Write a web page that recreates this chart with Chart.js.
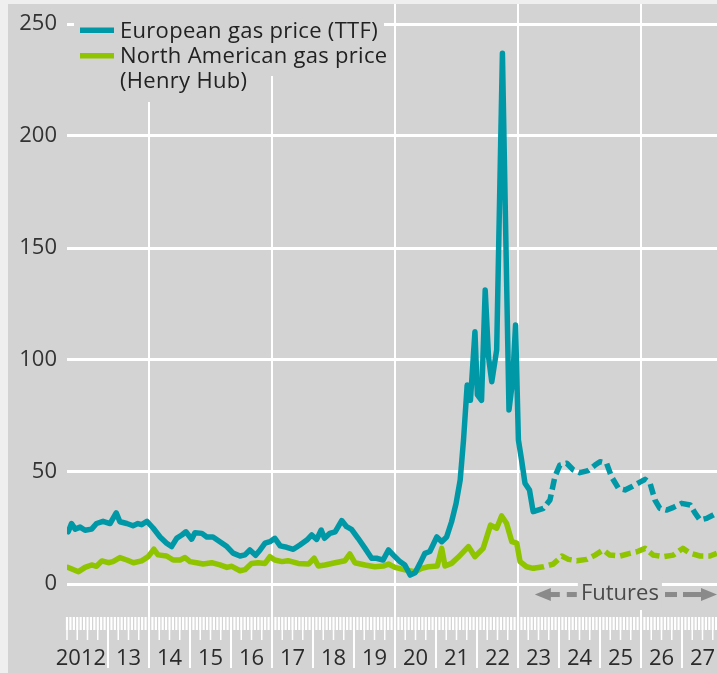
<!DOCTYPE html>
<html>
<head>
<meta charset="utf-8">
<script src="https://cdn.jsdelivr.net/npm/chart.js@4/dist/chart.umd.min.js"></script>
<style>
  html, body { margin: 0; padding: 0; background: #efefef; }
  #wrap { width: 717px; height: 673px; position: relative; }
</style>
</head>
<body>
<div id="wrap"><canvas id="c" width="717" height="673"></canvas></div>
<script>
// ---- data (time in decimal years, prices in EUR/MWh) ----
const ttfTime = [2012.03,2012.11,2012.20,2012.32,2012.44,2012.60,2012.72,2012.88,2013.05,2013.20,2013.29,2013.46,2013.61,2013.73,2013.82,2013.95,
  2014.10,2014.27,2014.43,2014.55,2014.68,2014.80,2014.90,2015.04,2015.12,2015.29,2015.41,2015.56,2015.73,2015.90,
  2016.05,2016.22,2016.34,2016.46,2016.60,2016.71,2016.83,2016.95,2017.07,2017.20,2017.36,2017.52,2017.68,2017.85,2017.97,
  2018.09,2018.20,2018.28,2018.41,2018.54,2018.70,2018.82,2018.94,2019.10,2019.27,2019.43,2019.55,2019.71,2019.84,2019.96,
  2020.12,2020.24,2020.37,2020.49,2020.61,2020.73,2020.85,2021.02,2021.14,2021.26,2021.38,2021.49,2021.59,2021.67,2021.76,2021.84,2021.95,
  2022.01,2022.11,2022.20,2022.28,2022.36,2022.48,2022.62,2022.78,2022.87,2022.94,2023.01,2023.09,2023.17,2023.28,2023.37];
const ttfPrice = [23.3,27,24.5,25.4,24,24.5,27,28,27,31.8,27.8,27,26,27,26.5,28,
  25,21,18.2,16.7,20.5,21.9,23.3,20,22.9,22.6,21,21,18.9,16.7,
  13.8,12.5,13,15.2,12.8,15.2,18.2,18.9,20.4,17,16.4,15.5,17.4,19.6,21.9,
  19.9,24.1,20.4,22.6,23.3,28.3,25.6,24.4,20.4,15.9,11.5,11.5,10.7,15.2,12.9,
  10,8.5,4,5,9.2,13.7,14.5,21,18.9,21,27.8,36,46.4,64,88.8,82,112.6,
  84.4,82,131.2,101.5,90.3,104.5,236.9,77.7,91,115.6,64.3,55,45,42,32.3];
const ttfFuturesTime = [2023.37,2023.62,2023.78,2023.90,2024.02,2024.19,2024.35,2024.51,2024.71,2024.88,2025.00,2025.16,2025.28,2025.45,2025.61,2025.77,2025.93,
  2026.10,2026.22,2026.34,2026.46,2026.63,2026.79,2026.99,2027.20,2027.32,2027.44,2027.60,2027.76,2027.85];
const ttfFuturesPrice = [32.3,33.8,37.5,47.9,53.1,53.9,50.9,49.7,50.6,53.1,54.6,53.9,47.9,42.7,42,43.4,45,
  46.7,45,37.5,33.8,33,34.2,36,35.3,31.6,28.6,29.3,30.8,31.7];

const hhTime = [2012.03,2012.28,2012.44,2012.60,2012.72,2012.85,2013.01,2013.12,2013.29,2013.46,2013.62,2013.82,2013.98,
  2014.12,2014.22,2014.43,2014.59,2014.76,2014.88,2015.00,2015.16,2015.32,2015.53,2015.73,2015.90,
  2016.02,2016.22,2016.34,2016.50,2016.66,2016.83,2016.95,2017.07,2017.24,2017.39,2017.64,2017.89,
  2018.03,2018.13,2018.29,2018.54,2018.78,2018.90,2019.02,2019.27,2019.51,2019.71,2019.84,
  2020.00,2020.24,2020.49,2020.65,2020.81,2021.03,2021.14,2021.22,2021.38,2021.54,2021.79,2021.95,
  2022.15,2022.33,2022.48,2022.60,2022.72,2022.85,2022.97,2023.05,2023.21,2023.37];
const hhPrice = [7.4,5.5,7.4,8.5,7.9,10.3,9.5,10,11.8,10.7,9.5,10.3,12.2,
  15.5,13,12.5,10.7,10.7,11.8,10,9.5,8.9,9.5,8.5,7.4,
  7.9,5.9,6.4,9.2,9.5,9.2,12.2,10.7,10,10.4,9.2,8.9,
  11.5,8,8.5,9.5,10.4,13.4,9.5,8.5,7.7,8,8.9,
  7.4,6.3,5.5,7,7.7,8,15.9,8,9.2,11.9,16.7,12.2,
  15.9,26.3,24.9,30.4,27.1,18.9,18.2,10,7.7,7];
const hhFuturesTime = [2023.37,2023.62,2023.86,2024.07,2024.23,2024.43,2024.68,2024.88,2025.08,2025.24,2025.49,2025.73,2025.90,
  2026.10,2026.30,2026.54,2026.79,2027.02,2027.20,2027.44,2027.68,2027.85];
const hhFuturesPrice = [7,7.7,8.9,12.5,11,10.4,11,12.9,15.2,12.9,12.5,13.7,14.4,
  15.9,12.9,12.2,12.9,15.9,13.7,12.5,12.5,13.7];

const yearLabels = ['2012','13','14','15','16','17','18','19','20','21','22','23','24','25','26','27'];
const gridYears = [2014, 2017, 2020, 2023, 2026];
const yTickValues = [0, 50, 100, 150, 200, 250];
const seriesNames = ['European gas price (TTF)', ['North American gas price', '(Henry Hub)']];
const futuresLabel = 'Futures';

// ---- styles ----
const TEAL = '#0098a7';
const GREEN = '#8fc400';
const PANEL = '#d3d3d3';
const FONT = "'Open Sans', sans-serif";
const DASH = [11, 5];

const pts = (t, v) => t.map((x, i) => ({ x: x, y: v[i] }));

const bgPlugin = {
  id: 'bg',
  beforeDraw(chart) {
    const ctx = chart.ctx;
    ctx.save();
    ctx.fillStyle = '#efefef';
    ctx.fillRect(0, 0, chart.width, chart.height);
    ctx.fillStyle = PANEL;
    ctx.fillRect(8, 4, chart.width - 8, chart.height - 4);
    ctx.restore();
  }
};

const decoPlugin = {
  id: 'deco',
  beforeDatasetsDraw(chart) {
    const ctx = chart.ctx;
    const xs = chart.scales.x, ys = chart.scales.y;
    const area = chart.chartArea;
    ctx.save();
    // legend boxes (hide grid)
    ctx.fillStyle = PANEL;
    ctx.fillRect(74, area.top, 310, 72);
    ctx.fillRect(74, area.top, 178, 98);
    // legend samples
    ctx.fillStyle = TEAL;
    ctx.fillRect(80, 27.5, 34, 5.5);
    ctx.fillStyle = GREEN;
    ctx.fillRect(80, 53, 34, 5.5);
    ctx.fillStyle = '#222';
    ctx.font = '22px ' + FONT;
    try { ctx.letterSpacing = '0.3px'; } catch (e) {}
    ctx.textBaseline = 'alphabetic';
    ctx.fillText(seriesNames[0], 120, 38);
    ctx.fillText(seriesNames[1][0], 120, 63);
    ctx.fillText(seriesNames[1][1], 120, 88);
    try { ctx.letterSpacing = '0px'; } catch (e) {}

    // futures annotation
    const gx0 = xs.getPixelForValue(2024.46), gx1 = xs.getPixelForValue(2026.51);
    const ay = ys.getPixelForValue(-4.7);
    ctx.fillStyle = PANEL;
    ctx.fillRect(gx0, ys.getPixelForValue(1.8), gx1 - gx0, 30);
    ctx.fillStyle = '#4a4a4a';
    ctx.textAlign = 'center';
    ctx.textBaseline = 'middle';
    ctx.fillText(futuresLabel, (gx0 + gx1) / 2, ay - 1);
    ctx.fillStyle = '#8a8a8a';
    const lt = xs.getPixelForValue(2023.41);
    ctx.beginPath();
    ctx.moveTo(lt, ay); ctx.lineTo(lt + 16, ay - 6.5); ctx.lineTo(lt + 16, ay + 6.5); ctx.closePath(); ctx.fill();
    ctx.fillRect(lt + 15, ay - 2.5, 10, 5);
    ctx.fillRect(lt + 32, ay - 2.5, 10, 5);
    const rt = xs.getPixelForValue(xs.max);
    ctx.beginPath();
    ctx.moveTo(rt, ay); ctx.lineTo(rt - 16, ay - 6.5); ctx.lineTo(rt - 16, ay + 6.5); ctx.closePath(); ctx.fill();
    ctx.fillRect(rt - 34, ay - 2.5, 19, 5);
    ctx.fillRect(rt - 52, ay - 2.5, 12, 5);
    ctx.restore();
  },
  afterDraw(chart) {
    // month / quarter / year tick band under the plot
    const ctx = chart.ctx;
    const xs = chart.scales.x;
    const top = chart.chartArea.bottom;
    ctx.save();
    ctx.fillStyle = '#ffffff';
    for (let m = 0; ; m++) {
      const v = xs.min + m / 12;
      if (v > xs.max + 1e-6) break;
      const px = xs.getPixelForValue(v);
      ctx.fillRect(px - 1.1, top, 2.2, 13);
      if (m % 3 === 0) ctx.fillRect(px - 0.75, top + 13, 1.5, 10);
      if (m % 12 === 0 && m > 0) ctx.fillRect(px - 1, top + 13, 2, 38);
    }
    ctx.restore();
  }
};

new Chart(document.getElementById('c'), {
  type: 'line',
  data: {
    datasets: [
      { label: 'TTF', data: pts(ttfTime, ttfPrice), borderColor: TEAL, borderWidth: 5.5, pointRadius: 0, tension: 0, borderJoinStyle: 'round', borderCapStyle: 'round' },
      { label: 'TTF futures', data: pts(ttfFuturesTime, ttfFuturesPrice), borderColor: TEAL, borderWidth: 5.5, pointRadius: 0, tension: 0, borderDash: DASH, borderJoinStyle: 'round' },
      { label: 'Henry Hub', data: pts(hhTime, hhPrice), borderColor: GREEN, borderWidth: 5.5, pointRadius: 0, tension: 0, borderJoinStyle: 'round', borderCapStyle: 'round' },
      { label: 'Henry Hub futures', data: pts(hhFuturesTime, hhFuturesPrice), borderColor: GREEN, borderWidth: 5.5, pointRadius: 0, tension: 0, borderDash: DASH, borderJoinStyle: 'round' }
    ]
  },
  options: {
    responsive: false,
    animation: false,
    layout: { padding: { top: 4, left: 0, right: 0, bottom: 0 } },
    plugins: { legend: { display: false }, tooltip: { enabled: false } },
    scales: {
      x: {
        type: 'linear',
        min: 2012,
        max: 2012 + 650 / 41,
        border: { display: false },
        afterBuildTicks(scale) {
          const t = gridYears.map(v => ({ value: v }));
          yearLabels.forEach((l, i) => t.push({ value: 2012 + i + (i === 0 ? 0.34 : 0.5) }));
          scale.ticks = t;
        },
        afterFit(scale) { scale.height = 56; scale.paddingLeft = 0; scale.paddingRight = 0; },
        grid: {
          drawTicks: false,
          lineWidth: 2,
          color: (c) => (c.tick && gridYears.includes(c.tick.value)) ? '#ffffff' : 'rgba(0,0,0,0)'
        },
        ticks: {
          autoSkip: false,
          maxRotation: 0,
          minRotation: 0,
          padding: 29,
          color: '#2b2b2b',
          font: { family: FONT, size: 22 },
          callback: (value) => gridYears.includes(value) ? '' : yearLabels[Math.floor(value - 2012)]
        }
      },
      y: {
        min: -(617 - 584) / 2.24,
        max: 250 + 20 / 2.24,
        border: { display: false },
        afterBuildTicks(scale) { scale.ticks = yTickValues.map(v => ({ value: v })); },
        afterFit(scale) { scale.width = 67; scale.paddingTop = 0; scale.paddingBottom = 0; },
        grid: { drawTicks: false, lineWidth: 3, color: '#ffffff' },
        ticks: {
          padding: 10,
          color: '#333333',
          font: { family: FONT, size: 22 },
          callback: (v) => String(v)
        }
      }
    }
  },
  plugins: [bgPlugin, decoPlugin]
});
</script>
</body>
</html>
